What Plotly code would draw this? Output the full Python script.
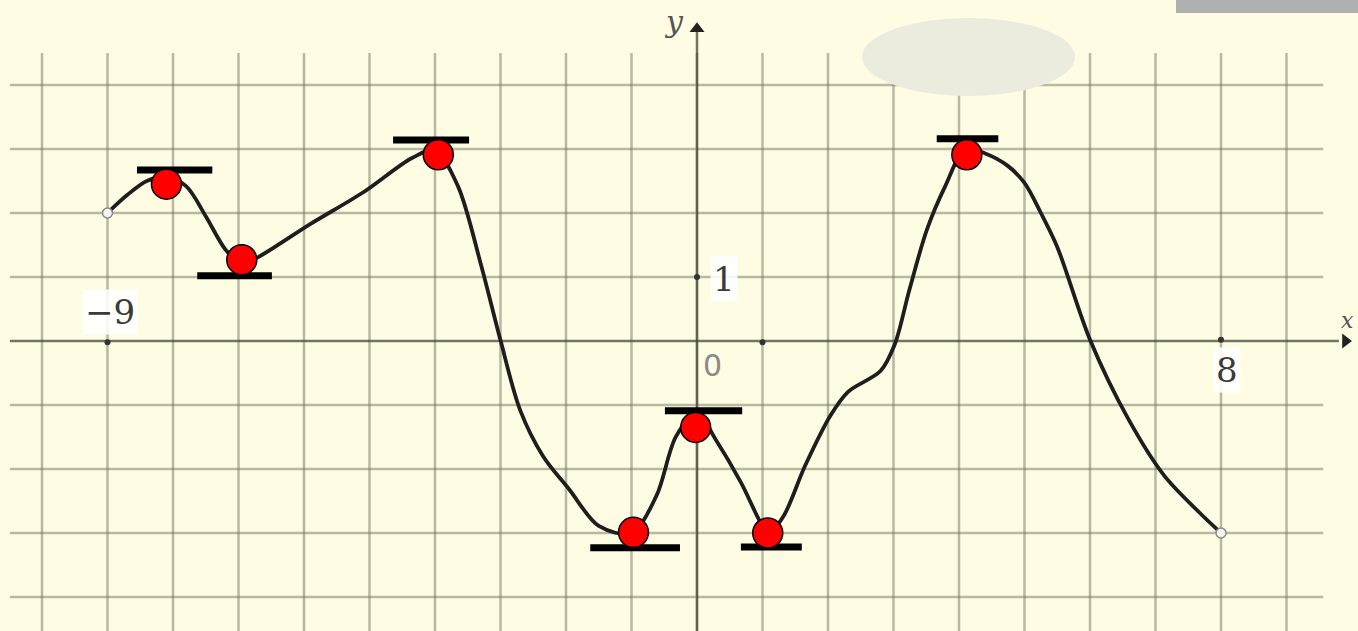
import plotly.graph_objects as go

# function graph (x units, y units)
curve_x = [-9, -8.7, -8.4, -8.1, -7.8, -7.5, -7.2, -6.95, -6.7, -5.9, -5.1, -4.35, -4.0,
           -3.65, -3.3, -3.0, -2.7, -2.35, -1.95, -1.5, -1.0, -0.62, -0.32, 0.0, 0.28,
           0.67, 1.0, 1.1, 1.32, 1.65, 2.04, 2.31, 2.8, 3.02, 3.24, 3.51, 3.79, 4.1,
           4.4, 4.74, 5.0, 5.25, 5.5, 6.0, 6.58, 7.13, 7.67, 8.0]
curve_y = [2.0, 2.28, 2.5, 2.56, 2.42, 1.95, 1.43, 1.2, 1.31, 1.83, 2.32, 2.86, 2.98,
           2.42, 1.2, 0.01, -1.08, -1.8, -2.32, -2.89, -3.0, -2.42, -1.49, -1.12, -1.53,
           -2.21, -2.89, -3.0, -2.74, -1.95, -1.16, -0.79, -0.47, -0.05, 0.79, 1.74, 2.42,
           3.0, 2.93, 2.74, 2.47, 2.0, 1.47, 0.02, -1.21, -2.1, -2.68, -3.0]

# extrema marked with red dots
ext_x = [-8.1, -6.95, -3.95, -0.97, -0.02, 1.08, 4.12]
ext_y = [2.45, 1.27, 2.91, -2.99, -1.35, -3.0, 2.91]

# horizontal tangent bars
bar_x0 = [-8.55, -7.63, -4.64, -1.63, -0.49, 0.67, 3.66]
bar_x1 = [-7.40, -6.49, -3.48, -0.26, 0.69, 1.60, 4.60]
bar_y = [2.67, 1.02, 3.14, -3.23, -1.09, -3.22, 3.16]

# open end points
end_x = [-9, 8]
end_y = [2, -3]

# axis labels
lab_text = ["\u22129", "1", "8"]
lab_x = [-8.96, 0.41, 8.09]
lab_y = [0.45, 0.97, -0.45]

W, H = 1358, 631
X0, Y0, SX, SY = 697, 341, 65.5, 64.0
xr = [-X0 / SX, (W - X0) / SX]
yr = [(Y0 - H) / SY, Y0 / SY]

BG = "#FEFDE3"
GRID = "rgba(115,115,95,0.5)"

fig = go.Figure()

# grid
gx, gy = [], []
for k in range(-10, 10):
    gx += [k, k, None]
    gy += [4.5, yr[0] - 0.1, None]
for k in range(-4, 5):
    if k == 0:
        continue
    gx += [-10.49, 9.56, None]
    gy += [k, k, None]
fig.add_trace(go.Scatter(x=gx, y=gy, mode="lines", line=dict(color=GRID, width=2.5),
                         hoverinfo="skip", showlegend=False))

# axes
fig.add_trace(go.Scatter(x=[-10.49, 9.8, None, 0, 0], y=[0, 0, None, 4.85, yr[0] - 0.1],
                         mode="lines", line=dict(color="rgba(70,70,55,0.75)", width=2.5),
                         hoverinfo="skip", showlegend=False))
fig.add_trace(go.Scatter(x=[0], y=[4.88], mode="markers",
                         marker=dict(symbol="triangle-up", size=13, color="#222"),
                         hoverinfo="skip", showlegend=False))
fig.add_trace(go.Scatter(x=[9.9], y=[0], mode="markers",
                         marker=dict(symbol="triangle-right", size=13, color="#222"),
                         hoverinfo="skip", showlegend=False))
fig.add_trace(go.Scatter(x=[-9, 1, 8, 0], y=[-0.02, -0.02, 0.02, 1.0], mode="markers",
                         marker=dict(symbol="circle", size=6, color="#333"),
                         hoverinfo="skip", showlegend=False))

# function curve
fig.add_trace(go.Scatter(x=curve_x, y=curve_y, mode="lines",
                         line=dict(color="#1e1e1e", width=3.8, shape="spline", smoothing=0.9),
                         hoverinfo="skip", showlegend=False))

# open end points
fig.add_trace(go.Scatter(x=end_x, y=end_y, mode="markers",
                         marker=dict(size=10, color="#f4f4f0", line=dict(color="#888", width=1.5)),
                         hoverinfo="skip", showlegend=False))

# tangent bars
tx, ty = [], []
for a, b, c in zip(bar_x0, bar_x1, bar_y):
    tx += [a, b, None]
    ty += [c, c, None]
fig.add_trace(go.Scatter(x=tx, y=ty, mode="lines", line=dict(color="black", width=7),
                         hoverinfo="skip", showlegend=False))

# extrema
fig.add_trace(go.Scatter(x=ext_x, y=ext_y, mode="markers",
                         marker=dict(size=30, color="#FF0000", line=dict(color="black", width=1.5)),
                         hoverinfo="skip", showlegend=False))

for t, x, y in zip(lab_text, lab_x, lab_y):
    fig.add_annotation(x=x, y=y, text=t, showarrow=False,
                       font=dict(family="DejaVu Serif", size=34, color="#3a3a3a"),
                       bgcolor="rgba(255,255,255,0.85)", borderpad=2)
fig.add_annotation(x=0.23, y=-0.39, text="0", showarrow=False,
                   font=dict(family="DejaVu Sans", size=30, color="#8a8a8a"))
fig.add_annotation(x=-0.35, y=5.0, text="<i>y</i>", showarrow=False,
                   font=dict(family="DejaVu Serif", size=30, color="#555"))
fig.add_annotation(x=1356 / W, xref="paper", y=0.32, text="<i>x</i>", showarrow=False,
                   xanchor="right", font=dict(family="DejaVu Serif", size=22, color="#555"))

# blurred blob and grey strip at the top right
fig.add_shape(type="circle", xref="paper", yref="paper",
              x0=862 / W, x1=1075 / W, y0=1 - 96 / H, y1=1 - 18 / H,
              fillcolor="#EBECDE", line=dict(width=0), layer="above")
fig.add_shape(type="rect", xref="paper", yref="paper",
              x0=1176 / W, x1=1, y0=1 - 13 / H, y1=1,
              fillcolor="#B0B0B0", line=dict(width=0), layer="above")

fig.update_layout(
    width=W, height=H,
    margin=dict(l=0, r=0, t=0, b=0),
    paper_bgcolor=BG, plot_bgcolor=BG,
    xaxis=dict(range=xr, visible=False, fixedrange=True),
    yaxis=dict(range=yr, visible=False, fixedrange=True),
    showlegend=False,
)

fig.write_html("out.html", config={"displayModeBar": False},
               post_script="document.body.style.margin='0';"
                           "document.body.style.background='" + BG + "';")
